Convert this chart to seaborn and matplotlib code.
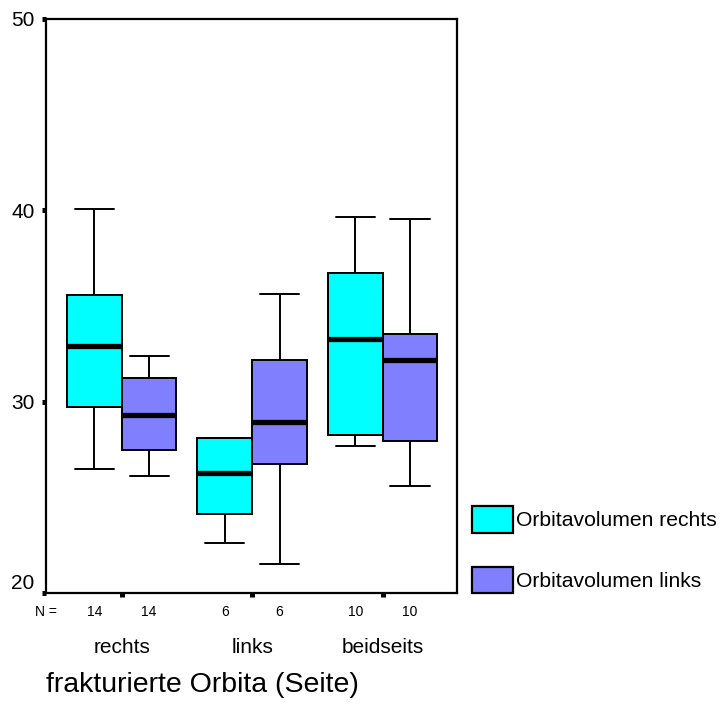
import numpy as np
import pandas as pd
import matplotlib
matplotlib.use("Agg")
import matplotlib.pyplot as plt
import seaborn as sns

# ---- data (five-number summaries: lower whisker, Q1, median, Q3, upper whisker)
categories = ["rechts", "links", "beidseits"]
series = ["Orbitavolumen rechts", "Orbitavolumen links"]
rechts_r = [26.5, 29.7, 32.9, 35.55, 40.05]
rechts_l = [26.1, 27.5, 29.3, 31.25, 32.4]
links_r = [22.6, 24.15, 26.25, 28.1, 28.1]
links_l = [21.5, 26.75, 28.95, 32.2, 35.65]
beid_r = [27.7, 28.25, 33.25, 36.7, 39.65]
beid_l = [25.6, 27.95, 32.2, 33.55, 39.55]
n_counts = [14, 14, 6, 6, 10, 10]
yticks = [20, 30, 40, 50]
palette = ["#00FFFF", "#8080FF"]

groups = [(categories[0], series[0], rechts_r), (categories[0], series[1], rechts_l),
          (categories[1], series[0], links_r), (categories[1], series[1], links_l),
          (categories[2], series[0], beid_r), (categories[2], series[1], beid_l)]
rows = []
for cat, ser, vals in groups:
    for v in vals:
        rows.append({"Seite": cat, "Serie": ser, "Wert": v})
df = pd.DataFrame(rows)

sns.set_style("white")
plt.rcParams["font.family"] = ["Liberation Sans", "DejaVu Sans"]
plt.rcParams["text.color"] = "black"
plt.rcParams["xtick.color"] = "black"
plt.rcParams["ytick.color"] = "black"
plt.rcParams["xtick.labelcolor"] = "black"
plt.rcParams["ytick.labelcolor"] = "black"
plt.rcParams["axes.labelcolor"] = "black"

fig = plt.figure(figsize=(7.23, 7.26), dpi=100)
ax = fig.add_axes([46 / 723, 133 / 726, 411 / 723, 574 / 726])

width = 0.84
sns.boxplot(data=df, x="Seite", y="Wert", hue="Serie", order=categories, hue_order=series,
            palette=palette, saturation=1, width=width, gap=0, dodge=True, whis=np.inf,
            linecolor="black", linewidth=1.4, medianprops={"linewidth": 3.8},
            capwidths=0.3, ax=ax)

ax.set_xlim(-0.58, 2.57)
ax.set_ylim(20, 50)
ax.set_yticks(yticks)
ax.set_yticklabels([str(t) for t in yticks], fontsize=15)
ax.set_xticks(range(len(categories)))
ax.set_xticklabels(categories, fontsize=15)
ax.tick_params(axis="both", direction="out", length=3.2, width=3.6, color="black",
               bottom=True, left=True, labelcolor="black")
ax.tick_params(axis="x", pad=29)
ax.tick_params(axis="y", pad=5)
ax.set_ylabel("")
ax.set_xlabel("frakturierte Orbita (Seite)", fontsize=20.5, loc="left", labelpad=11,
              color="black")
for s in ax.spines.values():
    s.set_linewidth(1.6)
    s.set_color("black")

# lift the lowest tick label as in the reference
ylabs = ax.get_yticklabels()
ylabs[0].set_va("bottom")

# N counts under each box
offs = [-width / 4, width / 4]
k = 0
for i in range(len(categories)):
    for j in range(len(series)):
        ax.annotate(str(n_counts[k]), xy=(i + offs[j], 0), xycoords=("data", "axes fraction"),
                    xytext=(0, -14), textcoords="offset points", ha="center", va="center",
                    fontsize=10, color="black")
        k += 1
ax.annotate("N =", xy=(0, 0), xycoords="axes fraction", xytext=(0, -14),
            textcoords="offset points", ha="center", va="center", fontsize=10, color="black")

leg = ax.get_legend()
handles = leg.legend_handles
labels = [t.get_text() for t in leg.get_texts()]
leg.remove()
for h in handles:
    h.set_edgecolor("black")
    h.set_linewidth(1.6)
fig.legend(handles, labels, loc="upper left", bbox_to_anchor=(472 / 723, 1 - 506 / 726),
           frameon=False, fontsize=15.2, handlelength=1.95, handleheight=1.58,
           handletextpad=0.12, labelspacing=1.6, borderpad=0, borderaxespad=0,
           labelcolor="black")

fig.savefig("out.png", dpi=100)
